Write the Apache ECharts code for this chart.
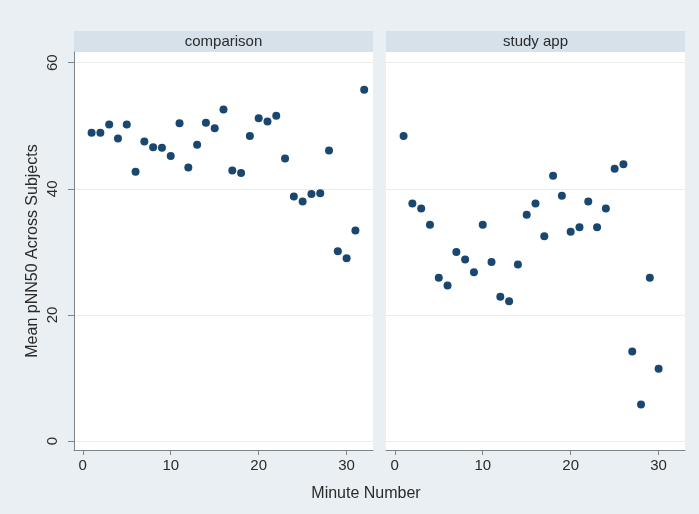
<!DOCTYPE html>
<html>
<head>
<meta charset="utf-8">
<script src="https://cdn.jsdelivr.net/npm/echarts@6/dist/echarts.min.js"></script>
<style>html,body{margin:0;padding:0;background:#e9eff3;}#c{width:699px;height:514px;}</style>
</head>
<body>
<div id="c"></div>
<script>
const panelNames = ['comparison', 'study app'];
const comparisonMinutes = [1,2,3,4,5,6,7,8,9,10,11,12,13,14,15,16,17,18,19,20,21,22,23,24,25,26,27,28,29,30,31,32];
const comparisonValues = [48.9,48.9,50.2,48.0,50.2,42.7,47.5,46.6,46.5,45.2,50.4,43.4,47.0,50.5,49.6,52.6,42.9,42.5,48.4,51.2,50.7,51.6,44.8,38.8,38.0,39.2,39.3,46.1,30.1,29.0,33.4,55.7];
const studyMinutes = [1,2,3,4,5,6,7,8,9,10,11,12,13,14,15,16,17,18,19,20,21,22,23,24,25,26,27,28,29,30];
const studyValues = [48.4,37.7,36.9,34.3,25.9,24.7,30.0,28.8,26.8,34.3,28.4,22.9,22.2,28.0,35.9,37.7,32.5,42.1,38.9,33.2,33.9,38.0,33.9,36.9,43.2,43.9,14.2,5.8,25.9,11.5];
const xTicks = [0,10,20,30];
const yTicks = [0,20,40,60];
const xTitle = 'Minute Number';
const yTitle = 'Mean pNN50 Across Subjects';

const chart = echarts.init(document.getElementById('c'));
const font = 'Liberation Sans, Arial, sans-serif';
const axisColor = '#7d858c';
const textColor = '#2b2b2b';
const grids = [
  {left: 74, top: 52, width: 299, height: 398},
  {left: 386, top: 52, width: 299, height: 398}
];
function xAxis(i){
  return {
    type: 'value', gridIndex: i, min: -1, max: 33,
    axisLine: {show: true, onZero: false, lineStyle: {color: axisColor, width: 1}},
    axisTick: {show: true, length: 5, customValues: xTicks, lineStyle: {color: axisColor}},
    axisLabel: {customValues: xTicks, color: textColor, fontSize: 15, fontFamily: font, margin: 8},
    splitLine: {show: false}
  };
}
function yAxis(i){
  const first = i === 0;
  return {
    type: 'value', gridIndex: i, min: -1.4, max: 61.7,
    name: first ? yTitle : '', nameLocation: 'middle', nameGap: 33, nameRotate: 90,
    nameTextStyle: {color: textColor, fontSize: 16, fontFamily: font},
    axisLine: {show: first, onZero: false, lineStyle: {color: axisColor, width: 1}},
    axisTick: {show: first, length: 6, customValues: yTicks, lineStyle: {color: axisColor}},
    axisLabel: {show: first, customValues: yTicks, rotate: 90, color: textColor, fontSize: 15, fontFamily: font, margin: 14},
    splitLine: {show: true, customValues: yTicks, lineStyle: {color: '#efece8', width: 1}}
  };
}
const strips = panelNames.map((n, i) => [
  {type: 'rect', left: grids[i].left, top: 31, shape: {width: grids[i].width, height: 21}, style: {fill: '#d6e1e9'}},
  {type: 'text', x: grids[i].left + grids[i].width / 2, y: 42,
   style: {text: n, textAlign: 'center', textVerticalAlign: 'middle', fill: textColor, font: '15px ' + font}}
]).flat();
chart.setOption({
  backgroundColor: '#e9eff3',
  animation: false,
  grid: grids.map(g => Object.assign({show: true, backgroundColor: '#ffffff', borderWidth: 0}, g)),
  xAxis: [xAxis(0), xAxis(1)],
  yAxis: [yAxis(0), yAxis(1)],
  graphic: strips.concat([
    {type: 'text', x: 366, y: 494, style: {text: xTitle, textAlign: 'center', textVerticalAlign: 'middle', fill: textColor, font: '16px ' + font}}
  ]),
  series: [
    {type: 'scatter', xAxisIndex: 0, yAxisIndex: 0, symbolSize: 8, itemStyle: {color: '#1a476f', opacity: 1},
     data: comparisonMinutes.map((m, k) => [m, comparisonValues[k]])},
    {type: 'scatter', xAxisIndex: 1, yAxisIndex: 1, symbolSize: 8, itemStyle: {color: '#1a476f', opacity: 1},
     data: studyMinutes.map((m, k) => [m, studyValues[k]])}
  ]
});
</script>
</body>
</html>
